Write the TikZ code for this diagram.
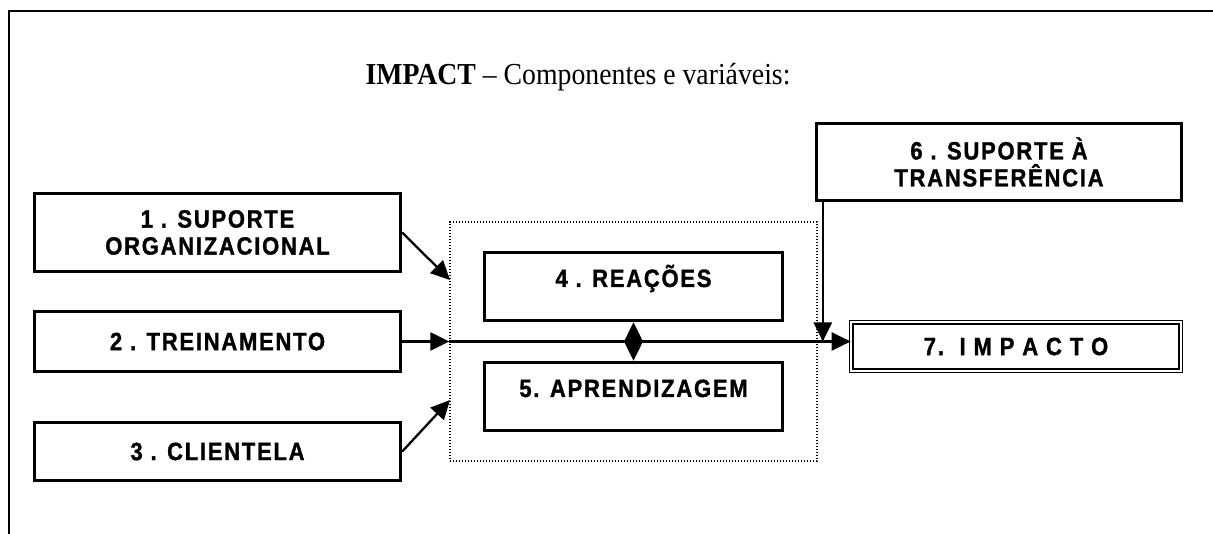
\documentclass[tikz,border=0pt]{standalone}
\usepackage{fontspec}
\setmainfont{Liberation Serif}
\newfontfamily\titlefont[FakeStretch=0.91, Ligatures=TeX]{Liberation Serif}
\newfontfamily\boxfont[LetterSpace=7, FakeStretch=0.88, FakeBold=1.2]{Liberation Sans}
\usetikzlibrary{arrows.meta}
\begin{document}
\begin{tikzpicture}[x=1pt,y=-1pt,
  box/.style={draw, line width=3.4pt, inner sep=0pt, align=center,
    font=\boxfont\bfseries\fontsize{25}{27}\selectfont},
  lowtext/.style={text height=18pt, text depth=17pt},
  dblbox/.style={draw, double, line width=1.2pt, double distance=2.3pt, inner sep=0pt,
    font=\boxfont\bfseries\fontsize{25}{27}\selectfont},
  dotbox/.style={draw, line width=1.3pt, dash pattern=on 1.3pt off 1.7pt},
  arr/.style={line width=2.3pt, -{Triangle[length=19pt,width=18pt]}},
  arrboth/.style={line width=2.3pt, {Triangle[length=18pt,width=17pt]}-{Triangle[length=18pt,width=17pt]}},
  titletext/.style={font=\titlefont\fontsize{30.5}{34}\selectfont, inner sep=0pt}]
\useasboundingbox (0,0) rectangle (1213,534);
% frame
\draw[line width=1.8pt] (9,534) -- (9,11) -- (1213,11);
% title
\node[titletext, anchor=base] (title) at (578,85) {\textbf{IMPACT} – Componentes e variáveis:};
% boxes
\node[box, minimum width=366pt, minimum height=78pt] (b1) at (217.5,232.5) {1 . SUPORTE\\ORGANIZACIONAL};
\node[box, minimum width=366pt, minimum height=60pt] (b2) at (217.5,341.5) {2 . TREINAMENTO};
\node[box, minimum width=366pt, minimum height=58pt] (b3) at (217.5,451.5) {3 . CLIENTELA};
\node[dotbox, minimum width=367pt, minimum height=239pt] (dot) at (633.5,341.5) {};
\node[box, lowtext, minimum width=298pt, minimum height=68pt] (b4) at (633.5,286.5) {4 . REAÇÕES};
\node[box, lowtext, minimum width=298pt, minimum height=68pt] (b5) at (633.5,396.5) {5. APRENDIZAGEM};
\node[box, minimum width=365pt, minimum height=77pt] (b6) at (999,162) {6 . SUPORTE À\\TRANSFERÊNCIA};
\node[dblbox, minimum width=329.5pt, minimum height=48.5pt] (b7) at (1016,346.5) {7.~~I M P A C T O};
% connectors
\coordinate (d1) at (450,280);
\coordinate (d3) at (450,400);
\draw[arr] (b1.east) -- (d1);
\draw[arr] (b3.east) -- (d3);
\draw[arr] (b2.east) -- (dot.west |- b2.east);
\draw[arr] (dot.west |- b2.east) -- (b7.west |- b2.east);
\draw[arrboth] (b4.south) -- (b5.north);
\coordinate (v6) at ([xshift=8pt]b6.south west);
\draw[arr] (v6) -- (v6 |- b2.east);
\end{tikzpicture}
\end{document}
